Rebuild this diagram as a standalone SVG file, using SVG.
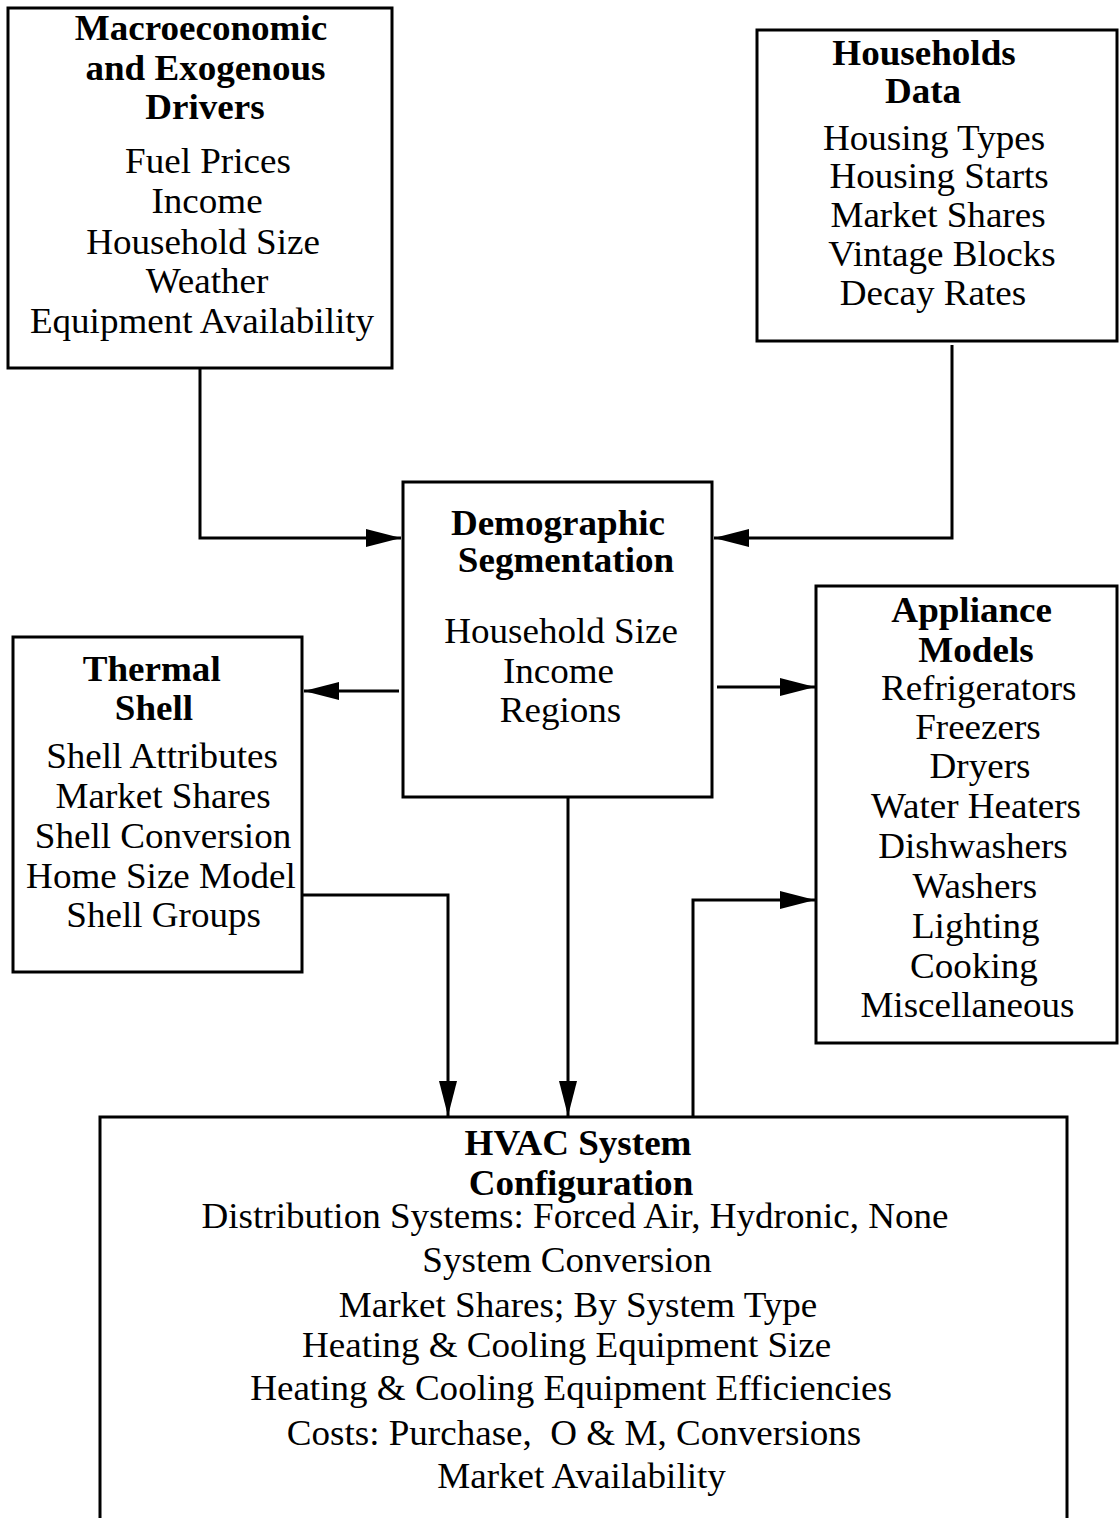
<svg xmlns="http://www.w3.org/2000/svg" width="1120" height="1518" viewBox="0 0 1120 1518">
<style>
.box{fill:#fff;stroke:#000;stroke-width:3}
.conn{fill:none;stroke:#000;stroke-width:3}
text{font-family:"Liberation Serif","Times New Roman",serif;font-size:36px;fill:#000;text-anchor:middle}
.t{font-weight:bold}
</style>
<defs>
<marker id="ah" markerUnits="userSpaceOnUse" markerWidth="35" markerHeight="18" refX="35" refY="9" orient="auto">
<path d="M0,0 L35,9 L0,18 z" fill="#000"/>
</marker>
</defs>
<rect width="1120" height="1518" fill="#fff"/>

<g id="macro">
<rect class="box" x="8" y="8" width="384" height="360"/>
<g transform="scale(1.03 1)">
<text class="t" x="195.1" y="40">Macroeconomic</text>
<text class="t" x="199.5" y="80">and Exogenous</text>
<text class="t" x="199" y="119.5">Drivers</text>
<text x="201.9" y="173">Fuel Prices</text>
<text x="201" y="213">Income</text>
<text x="197.1" y="254">Household Size</text>
<text x="201" y="293">Weather</text>
<text x="196.1" y="333">Equipment Availability</text>
</g>
</g>

<g id="households">
<rect class="box" x="757" y="30" width="360" height="311"/>
<g transform="scale(1.03 1)">
<text class="t" x="897.1" y="65">Households</text>
<text class="t" x="896.1" y="103">Data</text>
<text x="906.8" y="150">Housing Types</text>
<text x="911.7" y="188">Housing Starts</text>
<text x="910.7" y="227">Market Shares</text>
<text x="914.6" y="266">Vintage Blocks</text>
<text x="905.8" y="305">Decay Rates</text>
</g>
</g>

<g id="demographic">
<rect class="box" x="403" y="482" width="309" height="315"/>
<g transform="scale(1.03 1)">
<text class="t" x="541.7" y="535">Demographic</text>
<text class="t" x="549.5" y="572">Segmentation</text>
<text x="544.7" y="643">Household Size</text>
<text x="542.2" y="683">Income</text>
<text x="544.2" y="722">Regions</text>
</g>
</g>

<g id="thermal">
<rect class="box" x="13" y="637" width="289" height="335"/>
<g transform="scale(1.03 1)">
<text class="t" x="147.3" y="681">Thermal</text>
<text class="t" x="149.5" y="720">Shell</text>
<text x="157.3" y="768">Shell Attributes</text>
<text x="158.3" y="808">Market Shares</text>
<text x="158.3" y="848">Shell Conversion</text>
<text x="156.3" y="888">Home Size Model</text>
<text x="158.9" y="927">Shell Groups</text>
</g>
</g>

<g id="appliance">
<rect class="box" x="816" y="586" width="301" height="457"/>
<g transform="scale(1.03 1)">
<text class="t" x="943.4" y="622">Appliance</text>
<text class="t" x="947.6" y="662">Models</text>
<text x="950.2" y="700">Refrigerators</text>
<text x="949.5" y="739">Freezers</text>
<text x="951.5" y="778">Dryers</text>
<text x="947.6" y="818">Water Heaters</text>
<text x="944.7" y="858">Dishwashers</text>
<text x="946.4" y="898">Washers</text>
<text x="947.4" y="938">Lighting</text>
<text x="945.6" y="978">Cooking</text>
<text x="939.3" y="1017">Miscellaneous</text>
</g>
</g>

<g id="hvac">
<rect class="box" x="100" y="1117" width="967" height="430"/>
<g transform="scale(1.03 1)">
<text class="t" x="561.2" y="1155">HVAC System</text>
<text class="t" x="564.1" y="1195">Configuration</text>
<text x="558.3" y="1228">Distribution Systems: Forced Air, Hydronic, None</text>
<text x="550.5" y="1272">System Conversion</text>
<text x="561.2" y="1317">Market Shares; By System Type</text>
<text x="550.2" y="1357">Heating &amp; Cooling Equipment Size</text>
<text x="554.4" y="1400">Heating &amp; Cooling Equipment Efficiencies</text>
<text x="557.3" y="1445" style="white-space:pre">Costs: Purchase,  O &amp; M, Conversions</text>
<text x="564.6" y="1488">Market Availability</text>
</g>
</g>

<g id="connectors">
<path class="conn" d="M200,368 V538 H401" marker-end="url(#ah)"/>
<path class="conn" d="M952,345 V538 H714" marker-end="url(#ah)"/>
<path class="conn" d="M399,691 H304" marker-end="url(#ah)"/>
<path class="conn" d="M717,687 H815" marker-end="url(#ah)"/>
<path class="conn" d="M568,797 V1116" marker-end="url(#ah)"/>
<path class="conn" d="M302,895 H448 V1116" marker-end="url(#ah)"/>
<path class="conn" d="M693,1118 V900 H815" marker-end="url(#ah)"/>
</g>
</svg>
